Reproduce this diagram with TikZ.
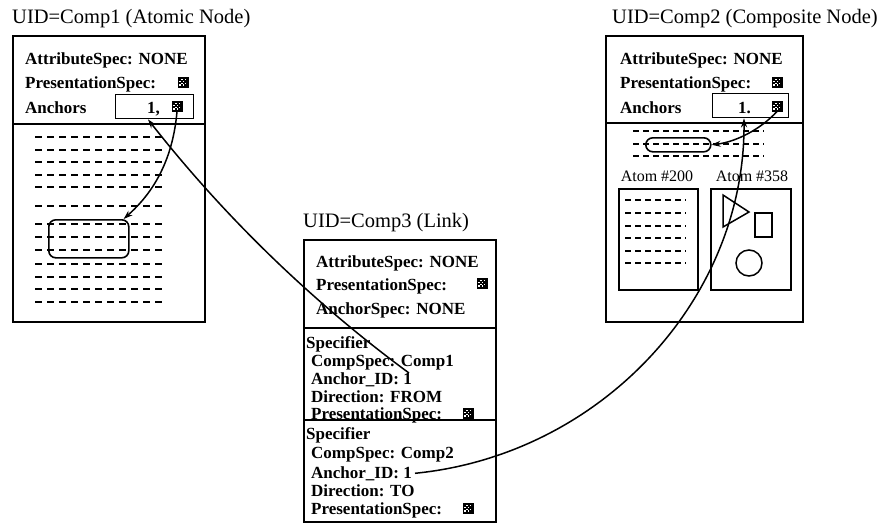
\documentclass[tikz,border=0pt]{standalone}
\usepackage{fontspec}
\setmainfont{Liberation Serif}
\usetikzlibrary{arrows.meta,calc}
\begin{document}
\begin{tikzpicture}[x=1pt,y=-1pt,
 box/.style={draw, line width=1.6pt, inner sep=0pt, anchor=north west},
 ttl/.style={font=\fontsize{20.5}{22}\selectfont, anchor=base west, inner sep=0pt},
 txt/.style={font=\fontsize{17}{18}\selectfont\bfseries, anchor=base west, inner sep=0pt},
 lbl/.style={font=\fontsize{16}{17}\selectfont, anchor=base, inner sep=0pt},
 chk/.style={draw, line width=0.9pt, fill=black, minimum size=10pt, inner sep=0pt,
   path picture={
     \foreach \i in {0,1,2,3}{\foreach \j in {0,1,2,3}{
       \pgfmathtruncatemacro\pp{mod(\i+\j,2)}
       \ifnum\pp=0
         \fill[white] ([xshift=1.4pt+\i*1.9pt,yshift=1.4pt+\j*1.9pt]path picture bounding box.south west) rectangle ++(1.2pt,1.2pt);
       \fi}}}},
 dl/.style={line width=2.1pt, dash pattern=on 7pt off 5pt},
 dls/.style={line width=1.7pt, dash pattern=on 6pt off 4pt},
 conn/.style={line width=1.5pt},
 tip/.style={-{Stealth[length=9pt,width=6pt]}}
]
\useasboundingbox (0,0) rectangle (880,523);

% ---------- titles
\node[ttl] (t1) at (12,23) {UID=Comp1 (Atomic Node)};
\node[ttl] (t2) at (612,23) {UID=Comp2 (Composite Node)};
\node[ttl] (t3) at (303,227) {UID=Comp3 (Link)};

% ---------- Box 1
\node[box, minimum width=192pt, minimum height=286pt] (b1) at (12,35) {};
\draw[line width=1.6pt] (12,124) -- (204,124);
\node[txt] (a1) at (25,64) {AttributeSpec: NONE};
\node[txt] (p1) at (25,88) {PresentationSpec:};
\node[chk] (p1c) at (183,82) {};
\node[txt] (an1) at (25,113) {Anchors};
\node[box, line width=1.4pt, minimum width=78pt, minimum height=24pt] (ab1) at (115,94) {};
\node[txt] (ab1n) at (147,113) {1,};
\node[chk] (ab1c) at (177,106) {};
\foreach \yy in {137,150,162,175,187,206,224,237,250,264,277,289,302}
  \draw[dl] (35,\yy) -- (166,\yy);
\node[box, rounded corners=7pt, minimum width=80pt, minimum height=38pt] (r1) at (48,219) {};
\coordinate (r1tip) at ($(r1.north east)+(-6,0)$);
\draw[conn,tip] (ab1c.south) .. controls (172,170) and (145,200) .. (r1tip);

% ---------- Box 2
\node[box, minimum width=197pt, minimum height=286pt] (b2) at (605,35) {};
\draw[line width=1.6pt] (605,123) -- (802,123);
\node[txt] (a2) at (620,64) {AttributeSpec: NONE};
\node[txt] (p2) at (620,88) {PresentationSpec:};
\node[chk] (p2c) at (777,82) {};
\node[txt] (an2) at (620,113) {Anchors};
\node[box, line width=1.4pt, minimum width=76pt, minimum height=24pt] (ab2) at (712,93) {};
\node[txt] (ab2n) at (738,113) {1.};
\node[chk] (ab2c) at (777,106) {};
\foreach \yy in {131,144,156}
  \draw[dls] (633,\yy) -- (764,\yy);
\node[box, rounded corners=7pt, minimum width=65pt, minimum height=14pt] (o2) at (645,137) {};
\draw[conn,tip] (ab2c.south) .. controls (760,130) and (735,142) .. (o2.east);

\node[lbl] (l200) at (657,181) {Atom \#200};
\node[lbl] (l358) at (752,181) {Atom \#358};
\node[box, minimum width=79pt, minimum height=101pt] (at200) at (618,188) {};
\node[box, minimum width=80pt, minimum height=101pt] (at358) at (710,188) {};
\foreach \yy in {200,213,226,238,251,263}
  \draw[dls] (625,\yy) -- (686,\yy);
\draw[line width=1.5pt] (723,195) -- (723,227) -- (749,212) -- cycle;
\draw[line width=1.5pt] (755,213) rectangle (772,237);
\draw[line width=1.5pt] (749,263) circle[radius=13pt];

% ---------- Box 3
\node[box, minimum width=192pt, minimum height=282pt] (b3) at (303,239) {};
\draw[line width=1.6pt] (303,328) -- (495,328);
\draw[line width=1.6pt] (303,420) -- (495,420);
\node[txt] (a3) at (316,267) {AttributeSpec: NONE};
\node[txt] (p3) at (316,290) {PresentationSpec:};
\node[chk] (p3c) at (482,283) {};
\node[txt] (as3) at (316,314) {AnchorSpec: NONE};

\node[txt] (s1) at (306,348) {Specifier};
\node[txt] (s1c) at (311,366) {CompSpec: Comp1};
\node[txt] (s1id) at (311,384) {Anchor\_ID: 1};
\node[txt] (s1d) at (311,402) {Direction: FROM};
\node[txt] (s1p) at (311,419) {PresentationSpec:};
\node[chk] (s1pc) at (468,413) {};

\node[txt] (s2) at (306,439) {Specifier};
\node[txt] (s2c) at (311,458) {CompSpec: Comp2};
\node[txt] (s2id) at (311,478) {Anchor\_ID: 1};
\node[txt] (s2d) at (311,496) {Direction: TO};
\node[txt] (s2p) at (311,514) {PresentationSpec:};
\node[chk] (s2pc) at (468,508) {};

% ---------- link connectors
\coordinate (k1) at ($(s1id.north east)+(-3,1)$);
\coordinate (k1tip) at ($(ab1.south west)+(33,0)$);
\draw[conn,tip] (k1) .. controls (311,301) and (223,215) .. (k1tip);

\coordinate (k2) at ($(s2id.east)+(3,0)$);
\coordinate (k2tip) at ($(ab2.south west)+(32,0)$);
\draw[conn,tip] (k2) .. controls (600,455) and (745,300) .. (k2tip);
\end{tikzpicture}
\end{document}
